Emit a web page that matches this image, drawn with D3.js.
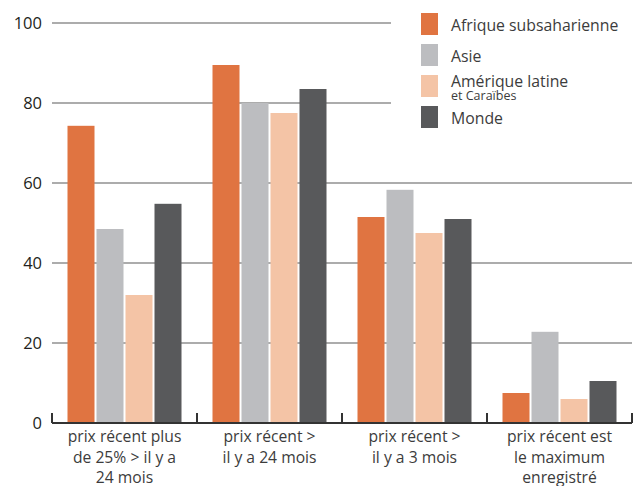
<!DOCTYPE html>
<html>
<head>
<meta charset="utf-8">
<script src="https://cdn.jsdelivr.net/npm/d3@7/dist/d3.min.js"></script>
<style>
  html, body { margin: 0; padding: 0; background: #fff; }
  svg { display: block; font-family: "Open Sans", "DejaVu Sans", sans-serif; }
</style>
</head>
<body>
<svg id="chart" width="638" height="486"></svg>
<script>
// Categories (each label split into its lines)
const categories = [
  ["prix récent plus", "de 25% > il y a", "24 mois"],
  ["prix récent >", "il y a 24 mois"],
  ["prix récent >", "il y a 3 mois"],
  ["prix récent est", "le maximum", "enregistré"]
];
const seriesNames = ["Afrique subsaharienne", "Asie", "Amérique latine", "Monde"];
const seriesSub = ["", "", "et Caraïbes", ""];
const seriesColors = ["#e07441", "#bcbdc0", "#f4c4a6", "#58595b"];

// Values per series, one per category
const afrique = [74.3, 89.5, 51.5, 7.5];
const asie = [48.5, 80, 58.3, 22.8];
const ameriqueLatine = [32, 77.5, 47.5, 6];
const monde = [54.8, 83.5, 51, 10.5];
const series = [afrique, asie, ameriqueLatine, monde];

const yTicks = [0, 20, 40, 60, 80, 100];

const svg = d3.select("#chart");

const x0 = d3.scaleBand().domain(d3.range(categories.length)).range([52, 632]).padding(0);
const x1 = d3.scaleBand().domain(d3.range(series.length))
  .range([15.5, x0.bandwidth() - 15.5]).paddingInner(2 / 29).paddingOuter(0);
const y = d3.scaleLinear().domain([0, 100]).range([423, 23]);

// Gridlines
const gridG = svg.append("g");
gridG.selectAll("line").data(yTicks.filter(d => d > 0)).join("line")
  .attr("x1", 52).attr("x2", 632)
  .attr("y1", d => y(d)).attr("y2", d => y(d))
  .attr("stroke", "#5a5a5a").attr("stroke-width", 1.2);

// Y tick labels
svg.append("g").selectAll("text").data(yTicks).join("text")
  .attr("x", 42).attr("y", d => y(d)).attr("dy", "0.36em")
  .attr("text-anchor", "end")
  .attr("font-size", 16.5).attr("fill", "#231f20")
  .text(d => d);

// Bars
const groups = svg.append("g").selectAll("g").data(categories).join("g")
  .attr("transform", (d, i) => `translate(${x0(i)},0)`);
groups.selectAll("rect")
  .data((d, i) => series.map((s, j) => ({ j, v: s[i] })))
  .join("rect")
  .attr("x", d => x1(d.j))
  .attr("width", x1.bandwidth())
  .attr("y", d => y(d.v))
  .attr("height", d => y(0) - y(d.v))
  .attr("fill", d => seriesColors[d.j]);

// Baseline axis with upward ticks at category boundaries
const axisG = svg.append("g");
axisG.append("line")
  .attr("x1", 52).attr("x2", 632).attr("y1", y(0)).attr("y2", y(0))
  .attr("stroke", "#333").attr("stroke-width", 2.2);
const bounds = d3.range(categories.length + 1).map(i => i < categories.length ? x0(i) : x0.range()[1]);
axisG.selectAll("line.tick").data(bounds).join("line")
  .attr("class", "tick")
  .attr("x1", d => d).attr("x2", d => d)
  .attr("y1", y(0)).attr("y2", y(0) - 10)
  .attr("stroke", "#333").attr("stroke-width", 2);

// Category labels
const labG = svg.append("g");
categories.forEach((lines, i) => {
  const t = labG.append("text")
    .attr("x", x0(i) + x0.bandwidth() / 2)
    .attr("text-anchor", "middle")
    .attr("font-size", 15.7).attr("fill", "#3c3c3c");
  lines.forEach((l, k) => {
    t.append("tspan").attr("x", x0(i) + x0.bandwidth() / 2).attr("y", 442 + k * 20.5).text(l);
  });
});

// Legend (white panel over the gridlines)
svg.append("rect").attr("x", 391).attr("y", 0).attr("width", 247).attr("height", 140).attr("fill", "#fff");
const leg = svg.append("g").selectAll("g").data(seriesNames).join("g")
  .attr("transform", (d, i) => `translate(421,${13 + i * 31})`);
leg.append("rect").attr("width", 17).attr("height", 22).attr("fill", (d, i) => seriesColors[i]);
leg.append("text").attr("x", 30).attr("y", (d, i) => seriesSub[i] ? 12 : 18)
  .attr("font-size", 15.8).attr("fill", "#3c3c3c").text(d => d);
leg.filter((d, i) => seriesSub[i]).append("text")
  .attr("x", 30).attr("y", 24.5)
  .attr("font-size", 12.5).attr("fill", "#3c3c3c")
  .text((d, i) => seriesSub[seriesNames.indexOf(d)]);
</script>
</body>
</html>
